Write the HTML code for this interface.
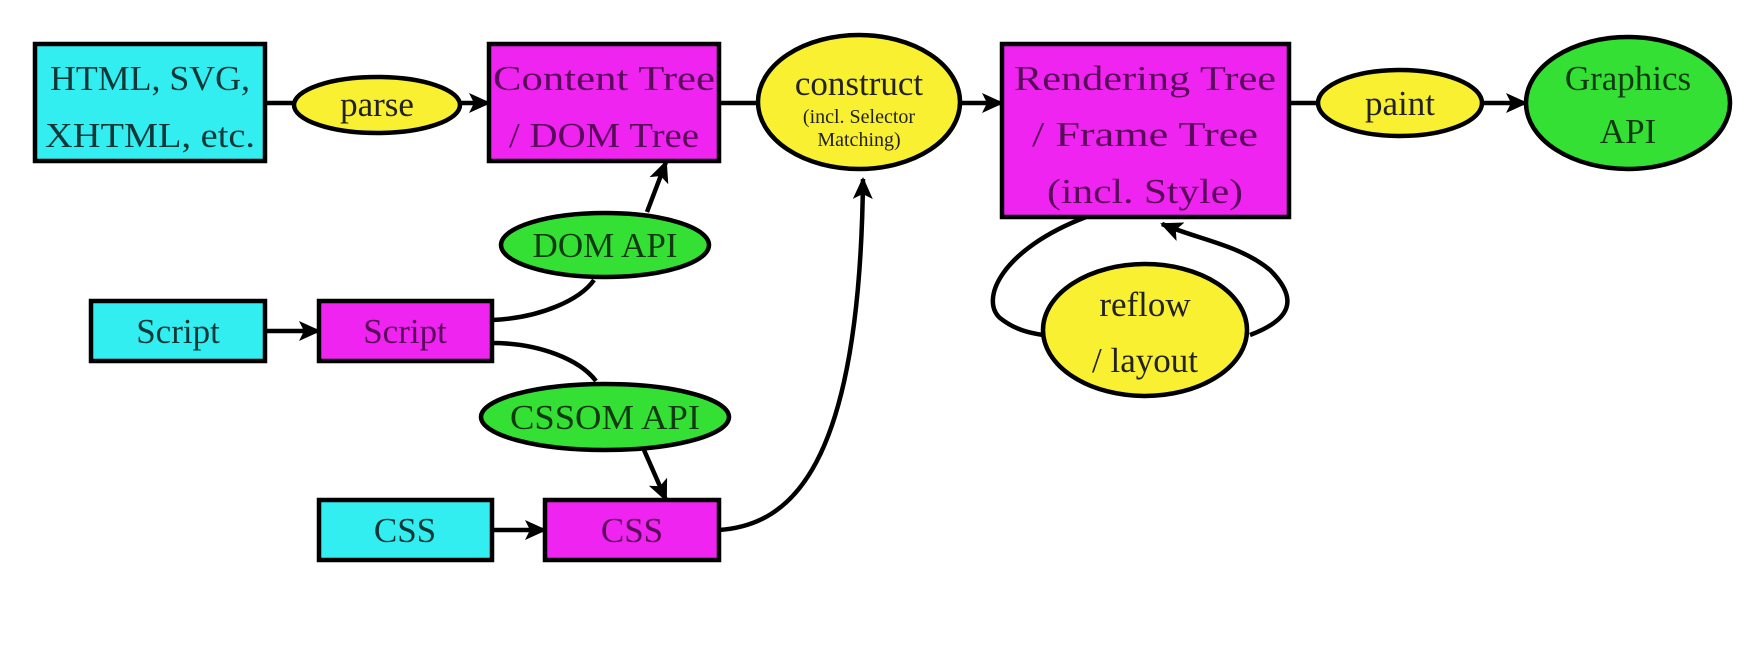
<!DOCTYPE html>
<html><head><meta charset="utf-8"><style>
html,body{margin:0;padding:0;background:#fff;}
svg{display:block;}
text{font-family:"Liberation Serif",serif;text-anchor:middle;}
</style></head><body>
<svg width="1748" height="652" viewBox="0 0 1748 652" xmlns="http://www.w3.org/2000/svg">
<defs>
<marker id="a" markerWidth="22" markerHeight="20" refX="20" refY="10" orient="auto" markerUnits="userSpaceOnUse" viewBox="0 0 22 20">
<path d="M0,0 L22,10 L0,20 L5,10 Z" fill="#000"/>
</marker>
</defs>
<g stroke="#000" stroke-width="4.5" fill="none">
<line x1="265" y1="103" x2="294" y2="103"/>
<line x1="460" y1="103" x2="489" y2="103" marker-end="url(#a)"/>
<line x1="719" y1="103" x2="758" y2="103"/>
<line x1="960" y1="103" x2="1002" y2="103" marker-end="url(#a)"/>
<line x1="1289" y1="103" x2="1318" y2="103"/>
<line x1="1483" y1="103" x2="1526" y2="103" marker-end="url(#a)"/>
<line x1="265" y1="331" x2="319" y2="331" marker-end="url(#a)"/>
<line x1="492" y1="530" x2="545" y2="530" marker-end="url(#a)"/>
<path d="M492,320 C540,318 580,300 594,280"/>
<line x1="647" y1="212" x2="666" y2="162" marker-end="url(#a)"/>
<path d="M492,343 C540,343 580,360 596,381"/>
<line x1="644" y1="450" x2="666" y2="500" marker-end="url(#a)"/>
<path d="M719,530 C790,525 860,470 863,179" marker-end="url(#a)"/>
<path d="M1086,217 C1000,250 980,300 1000,318 C1015,330 1030,333 1043,335"/>
<path d="M1250,335 C1290,320 1300,300 1270,270 C1240,245 1200,240 1162,224" marker-end="url(#a)"/>
</g>
<g stroke="#000" stroke-width="4.5">
<rect x="35" y="44" width="230" height="117" fill="#33eef0"/>
<rect x="489" y="44" width="230" height="117" fill="#f024f0"/>
<rect x="1002" y="44" width="287" height="173" fill="#f024f0"/>
<rect x="91" y="301" width="174" height="60" fill="#33eef0"/>
<rect x="319" y="301" width="173" height="60" fill="#f024f0"/>
<rect x="319" y="500" width="173" height="60" fill="#33eef0"/>
<rect x="545" y="500" width="174" height="60" fill="#f024f0"/>
<ellipse cx="377" cy="105" rx="83" ry="28" fill="#f8f030"/>
<ellipse cx="859" cy="102" rx="101" ry="67" fill="#f8f030"/>
<ellipse cx="1400" cy="103" rx="82" ry="33" fill="#f8f030"/>
<ellipse cx="1628" cy="103" rx="102" ry="66" fill="#33e033"/>
<ellipse cx="1145" cy="330" rx="102" ry="66" fill="#f8f030"/>
<ellipse cx="605" cy="245" rx="104" ry="32" fill="#33e033"/>
<ellipse cx="605" cy="417" rx="124" ry="33" fill="#33e033"/>
</g>
<g font-size="35">
<text x="150" y="90" fill="#113838" textLength="200" lengthAdjust="spacingAndGlyphs">HTML, SVG,</text>
<text x="150" y="147" fill="#113838" textLength="210" lengthAdjust="spacingAndGlyphs">XHTML, etc.</text>
<text x="377" y="116" fill="#222">parse</text>
<text x="604" y="90" fill="#5a0a5a" textLength="222" lengthAdjust="spacingAndGlyphs">Content Tree</text>
<text x="604" y="147" fill="#5a0a5a" textLength="190" lengthAdjust="spacingAndGlyphs">/ DOM Tree</text>
<text x="859" y="95" fill="#222">construct</text>
<text x="859" y="123" font-size="20" fill="#222">(incl. Selector</text>
<text x="859" y="146" font-size="20" fill="#222">Matching)</text>
<text x="1145" y="90" fill="#5a0a5a" textLength="262" lengthAdjust="spacingAndGlyphs">Rendering Tree</text>
<text x="1145" y="146" fill="#5a0a5a" textLength="226" lengthAdjust="spacingAndGlyphs">/ Frame Tree</text>
<text x="1145" y="203" fill="#5a0a5a" textLength="196" lengthAdjust="spacingAndGlyphs">(incl. Style)</text>
<text x="1400" y="115" fill="#222">paint</text>
<text x="1628" y="90" fill="#123a12">Graphics</text>
<text x="1628" y="143" fill="#123a12">API</text>
<text x="1145" y="316" fill="#222">reflow</text>
<text x="1145" y="372" fill="#222">/ layout</text>
<text x="605" y="257" fill="#123a12">DOM API</text>
<text x="605" y="429" fill="#123a12" textLength="190" lengthAdjust="spacingAndGlyphs">CSSOM API</text>
<text x="178" y="343" fill="#113838">Script</text>
<text x="405" y="343" fill="#5a0a5a">Script</text>
<text x="405" y="542" fill="#113838">CSS</text>
<text x="632" y="542" fill="#5a0a5a">CSS</text>
</g>
</svg>
</body></html>
